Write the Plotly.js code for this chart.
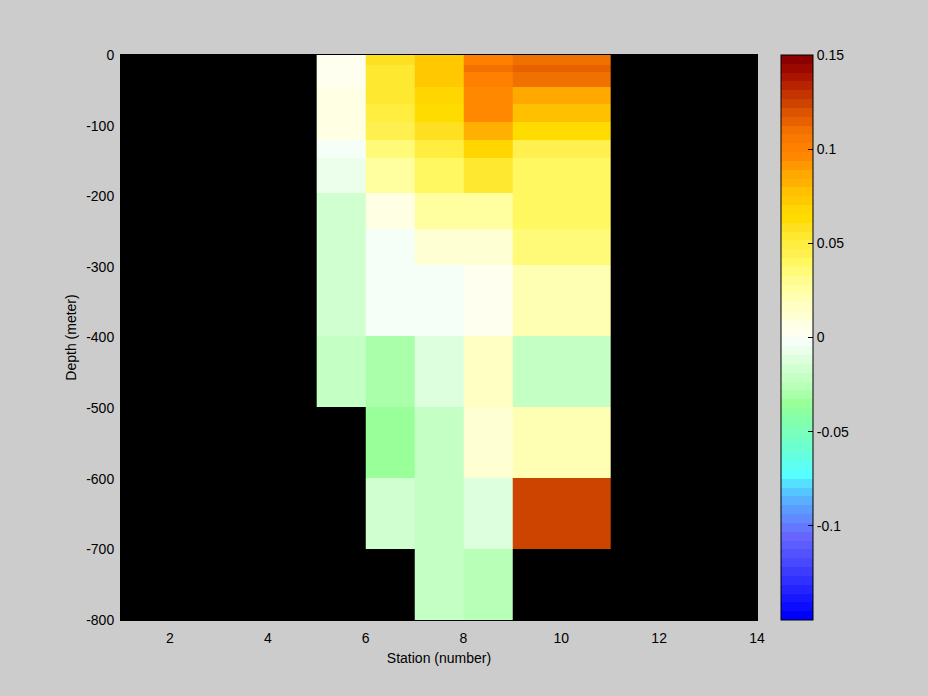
<!DOCTYPE html>
<html>
<head>
<meta charset="utf-8">
<script src="https://cdn.plot.ly/plotly-3.0.1.min.js"></script>
<style>html,body{margin:0;padding:0;background:#cccccc;}#chart{width:928px;height:696px;}</style>
</head>
<body>
<div id="chart"></div>
<script>
// Station cell edges (number)
var stationEdges = [5, 6, 7, 8, 9, 11];
// Depth cell edges (meter, negative downwards)
var depthEdges = [0, -14, -24, -45, -70, -95, -120, -146, -196, -247, -297, -398, -499, -599, -700, -800];

// Values per depth row (top to bottom), one entry per station column
var row0  = [0.0023, 0.0586, 0.0727, 0.1008, 0.1102];
var row1  = [0.0023, 0.0539, 0.0727, 0.1102, 0.1148];
var row2  = [0.0023, 0.0539, 0.0727, 0.1008, 0.1102];
var row3  = [0.0070, 0.0539, 0.0680, 0.0961, 0.0867];
var row4  = [0.0070, 0.0492, 0.0633, 0.0961, 0.0773];
var row5  = [0.0070, 0.0445, 0.0586, 0.0820, 0.0633];
var row6  = [-0.0023, 0.0352, 0.0492, 0.0680, 0.0445];
var row7  = [-0.0070, 0.0258, 0.0398, 0.0539, 0.0398];
var row8  = [-0.0164, 0.0070, 0.0258, 0.0258, 0.0398];
var row9  = [-0.0164, -0.0023, 0.0117, 0.0117, 0.0352];
var row10 = [-0.0164, -0.0023, -0.0023, 0.0023, 0.0211];
var row11 = [-0.0211, -0.0305, -0.0117, 0.0164, -0.0211];
var row12 = [null, -0.0352, -0.0211, 0.0117, 0.0211];
var row13 = [null, -0.0164, -0.0211, -0.0117, 0.1242];
var row14 = [null, null, -0.0211, -0.0258, null];

var xTickVals = [2, 4, 6, 8, 10, 12, 14];
var xTickText = ['2', '4', '6', '8', '10', '12', '14'];
var yTickVals = [0, -100, -200, -300, -400, -500, -600, -700, -800];
var yTickText = ['0', '-100', '-200', '-300', '-400', '-500', '-600', '-700', '-800'];
var cbTickVals = [-0.1, -0.05, 0, 0.05, 0.1, 0.15];
var cbTickText = ['-0.1', '-0.05', '0', '0.05', '0.1', '0.15'];

// 64-level colormap, bottom (-0.15) to top (0.15)
var cmap = [
  '#0000FF','#0C0CFF','#1818FF','#2424FF','#3030FF','#3C3CFF','#4848FF','#5252FF',
  '#5C5CFF','#6666FF','#6478FF','#608AFF','#5C9CFF','#58B0FF','#55C6FF','#55E0FF',
  '#55FFFF','#5CFFF0','#64FFE0','#6CFFD0','#74FFC4','#7CFFB8','#84FFAC','#8CFFA2',
  '#99FF99','#AAFFAA','#B8FFB8','#C4FFC4','#D0FFD0','#DDFFDD','#EBFFEB','#F5FFF8',
  '#FFFFF0','#FFFFE4','#FFFFD4','#FFFFC4','#FFFFB4','#FFFFA0','#FFFC90','#FFFA78',
  '#FFF860','#FFF050','#FFEE40','#FFE830','#FFE020','#FFDC00','#FFD600','#FFC800',
  '#FFC000','#FFB000','#FFA800','#FF9800','#FF8800','#FF8000','#F87800','#F07000',
  '#E86000','#DC5400','#CC4400','#C43400','#B82400','#AA1400','#9A0800','#8B0000'
];
var colorscale = [];
for (var k = 0; k < cmap.length; k++) {
  colorscale.push([k / cmap.length, cmap[k]]);
  colorscale.push([(k + 1) / cmap.length, cmap[k]]);
}

var z = [row0,row1,row2,row3,row4,row5,row6,row7,row8,row9,row10,row11,row12,row13,row14];

var FONT = '"Liberation Sans", Arial, Helvetica, sans-serif';

var trace = {
  type: 'heatmap',
  x: stationEdges,
  y: depthEdges,
  z: z,
  zmin: -0.15,
  zmax: 0.15,
  colorscale: colorscale,
  zsmooth: false,
  hoverongaps: false,
  colorbar: {
    x: 1.0377, xanchor: 'left', xpad: 0,
    y: 0.5, yanchor: 'middle', len: 1, lenmode: 'fraction', ypad: 0,
    thickness: 32,
    outlinecolor: '#000', outlinewidth: 1,
    ticks: 'inside', ticklen: 5, tickcolor: '#000', tickwidth: 1,
    tickmode: 'array', tickvals: cbTickVals, ticktext: cbTickText,
    tickfont: {family: FONT, size: 14, color: '#000'}
  }
};

var layout = {
  width: 928, height: 696,
  paper_bgcolor: '#cccccc',
  plot_bgcolor: '#000000',
  margin: {l: 121, r: 171, t: 55, b: 76, pad: 0},
  font: {family: FONT, size: 14, color: '#000'},
  showlegend: false,
  xaxis: {
    range: [1, 14], autorange: false,
    tickmode: 'array', tickvals: xTickVals, ticktext: xTickText,
    ticks: '', ticklabelstandoff: 5,
    showgrid: false, zeroline: false,
    showline: true, linecolor: '#000', mirror: true,
    tickfont: {family: FONT, size: 14, color: '#000'},
    title: {text: 'Station (number)', font: {family: FONT, size: 14, color: '#000'}, standoff: 8},
    automargin: false
  },
  yaxis: {
    range: [-800, 0], autorange: false,
    tickmode: 'array', tickvals: yTickVals, ticktext: yTickText,
    ticks: '', ticklabelstandoff: 3,
    showgrid: false, zeroline: false,
    showline: true, linecolor: '#000', mirror: true,
    tickfont: {family: FONT, size: 14, color: '#000'},
    title: {text: 'Depth (meter)', font: {family: FONT, size: 14, color: '#000'}, standoff: 6},
    automargin: false
  }
};

Plotly.newPlot('chart', [trace], layout, {staticPlot: true, displayModeBar: false});
</script>
</body>
</html>
